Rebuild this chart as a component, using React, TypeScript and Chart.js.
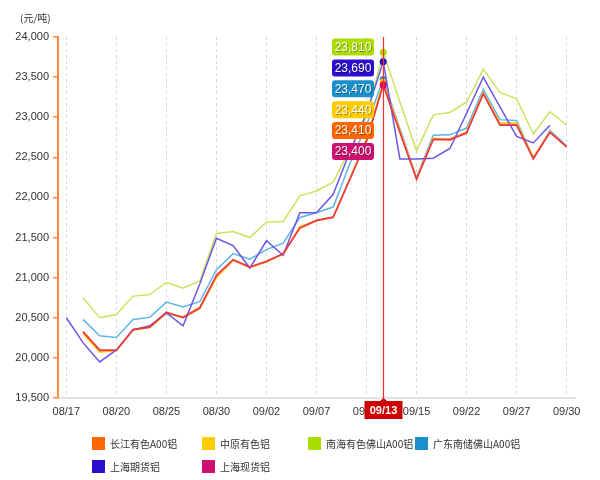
import { useEffect, useRef } from 'react';
import { Chart, registerables } from 'chart.js';

Chart.register(...registerables);

const dates = [
  '08/17', '08/18', '08/19', '08/20', '08/21', '08/24', '08/25', '08/26', '08/27', '08/30',
  '08/31', '09/01', '09/02', '09/03', '09/06', '09/07', '09/08', '09/09', '09/12', '09/13',
  '09/14', '09/15', '09/16', '09/19', '09/22', '09/23', '09/26', '09/27', '09/28', '09/29', '09/30',
];

const changjiang = [null, 20320, 20090, 20095, 20350, 20380, 20560, 20510, 20630, 21020, 21220, 21130, 21200, 21295, 21615, 21710, 21750, 22230, 22710, 23410, 22820, 22230, 22730, 22730, 22810, 23300, 22910, 22910, 22490, 22815, 22635];
const zhongyuan = [null, 20300, 20070, 20090, 20345, 20375, 20555, 20500, 20610, 21000, 21215, 21125, 21195, 21290, 21640, 21710, 21755, 22240, 22730, 23440, 22840, 22240, 22740, 22710, 22820, 23310, 22930, 22930, 22500, 22820, 22630];
const nanhai = [null, 20750, 20500, 20540, 20770, 20790, 20940, 20870, 20960, 21550, 21575, 21500, 21690, 21700, 22020, 22080, 22190, 22600, 23000, 23810, 23190, 22580, 23030, 23060, 23190, 23600, 23310, 23230, 22790, 23070, 22900];
const guangdong = [null, 20480, 20275, 20255, 20480, 20505, 20695, 20635, 20700, 21100, 21300, 21230, 21350, 21430, 21750, 21810, 21880, 22420, 22900, 23470, 22860, 22250, 22775, 22780, 22865, 23345, 22970, 22960, 22490, 22835, 22645];
const shfutures = [20500, 20190, 19950, 20100, 20350, 20400, 20560, 20400, 20920, 21490, 21400, 21120, 21460, 21280, 21810, 21810, 22040, 22570, 23050, 23690, 22480, 22480, 22490, 22610, 23050, 23500, 23130, 22760, 22680, 22900, null];
const shspot = [null, 20330, 20100, 20095, 20355, 20385, 20570, 20500, 20620, 21030, 21225, 21135, 21205, 21300, 21620, 21715, 21755, 22225, 22700, 23400, 22810, 22225, 22720, 22720, 22800, 23290, 22900, 22900, 22480, 22810, 22630];

const seriesNames = ['长江有色A00铝', '中原有色铝', '南海有色佛山A00铝', '广东南储佛山A00铝', '上海期货铝', '上海现货铝'];
const seriesData = [changjiang, zhongyuan, nanhai, guangdong, shfutures, shspot];
const strongColors = ['#FF6600', '#FFCC00', '#AADD00', '#1A8FCC', '#2A10CC', '#CC1170'];
const lineColors = ['#FF6A20', '#FFD020', '#C6E660', '#5CB6E8', '#6E55E6', '#E8394A'];
const drawOrder = [2, 3, 5, 4, 1, 0];

const HIGHLIGHT = 19;
const yTicksMin = 19500;
const yTicksMax = 24000;
const yStep = 500;

const FONT = 'Liberation Sans, Arial, sans-serif';

const markerPlugin = {
  id: 'marker',
  afterDatasetsDraw(chart: any) {
    const { ctx, chartArea, scales } = chart;
    const px = Math.round(scales.x.getPixelForValue(HIGHLIGHT)) + 0.5;
    ctx.save();
    ctx.setLineDash([]);
    ctx.strokeStyle = '#FF2A2A';
    ctx.lineWidth = 1.2;
    ctx.beginPath();
    ctx.moveTo(px, chartArea.top);
    ctx.lineTo(px, chartArea.bottom + 3);
    ctx.stroke();

    // value boxes
    const items = seriesData
      .map((d, i) => ({ v: d[HIGHLIGHT] as number, c: strongColors[i] }))
      .sort((a, b) => b.v - a.v);
    items.forEach((it, i) => {
      const cy = chartArea.top + 10 + i * 20.9;
      const w = 42;
      const h = 17;
      const bx = px - 9.5 - w;
      ctx.fillStyle = it.c;
      ctx.beginPath();
      ctx.roundRect(bx, cy - h / 2, w, h, 3);
      ctx.fill();
      ctx.font = `12px ${FONT}`;
      ctx.textAlign = 'center';
      ctx.textBaseline = 'middle';
      ctx.fillStyle = 'rgba(0,0,0,0.35)';
      ctx.fillText(it.v.toLocaleString('en-US'), bx + w / 2 + 1, cy + 1.5);
      ctx.fillStyle = '#FFFFFF';
      ctx.fillText(it.v.toLocaleString('en-US'), bx + w / 2, cy + 0.5);
    });

    // date box
    const top = chartArea.bottom + 3;
    const bw = 38;
    const bh = 18;
    ctx.fillStyle = '#CC0000';
    ctx.fillRect(px - bw / 2, top, bw, bh);
    ctx.beginPath();
    ctx.moveTo(px - 4, top + 0.5);
    ctx.lineTo(px, top - 3);
    ctx.lineTo(px + 4, top + 0.5);
    ctx.closePath();
    ctx.fill();
    ctx.fillStyle = '#FFFFFF';
    ctx.font = `bold 11px ${FONT}`;
    ctx.textAlign = 'center';
    ctx.textBaseline = 'middle';
    ctx.fillText(dates[HIGHLIGHT], px, top + bh / 2 + 0.5);
    ctx.restore();
  },
};

export default function App() {
  const ref = useRef<HTMLCanvasElement | null>(null);

  useEffect(() => {
    if (!ref.current) return;
    const chart = new Chart(ref.current, {
      type: 'line',
      data: {
        labels: dates,
        datasets: seriesData.map((d, i) => ({
          label: seriesNames[i],
          data: d,
          borderColor: lineColors[i],
          backgroundColor: strongColors[i],
          borderWidth: 1.5,
          tension: 0,
          order: drawOrder[i],
          spanGaps: false,
          pointRadius: (c: any) => (c.dataIndex === HIGHLIGHT ? 3.5 : 0),
          pointBackgroundColor: strongColors[i],
          pointBorderWidth: 0,
          pointHoverRadius: 0,
        })),
      },
      options: {
        responsive: false,
        animation: false,
        layout: { padding: { left: 0, right: 25, top: 37, bottom: 52 } },
        plugins: {
          legend: { display: false },
          tooltip: { enabled: false },
        },
        scales: {
          x: {
            type: 'category',
            offset: true,
            grid: {
              offset: false,
              drawTicks: false,
              lineWidth: 1,
              color: (c: any) => (c.index % 3 === 0 ? '#D8D8D8' : 'rgba(0,0,0,0)'),
            },
            border: { display: true, color: '#E2E2E2', width: 2, dash: [3, 3] },
            ticks: {
              autoSkip: false,
              maxRotation: 0,
              padding: 7,
              color: '#333333',
              font: { size: 11, family: FONT },
              callback: (_v: any, i: number) => (i % 3 === 0 && i !== HIGHLIGHT ? dates[i] : ''),
            },
            afterFit: (s: any) => {
              s.height = 30;
            },
          },
          y: {
            min: yTicksMin,
            max: yTicksMax,
            grid: { drawOnChartArea: false, color: '#FF8A3D', tickLength: 5, lineWidth: 1.5 },
            border: { display: true, color: '#FF8A3D', width: 2 },
            ticks: {
              stepSize: yStep,
              padding: 4,
              color: '#333333',
              font: { size: 11, family: FONT },
              callback: (v: any) => Number(v).toLocaleString('en-US'),
            },
            afterFit: (s: any) => {
              s.width = 58;
            },
          },
        },
      },
      plugins: [markerPlugin],
    });
    return () => chart.destroy();
  }, []);

  const legendPos = [
    [92, 437], [202, 437], [308, 437], [415, 437],
    [92, 460], [202, 460],
  ];

  return (
    <div style={{ position: 'fixed', left: 0, top: 0, width: 600, height: 480, background: '#fff' }}>
      <canvas ref={ref} width={600} height={480} style={{ position: 'absolute', left: 0, top: 0 }} />
      <div
        style={{
          position: 'absolute', left: 20, top: 11, fontSize: 10, color: '#333',
          fontFamily: 'Noto Sans CJK SC, sans-serif', lineHeight: '14px',
        }}
      >
        (元/吨)
      </div>
      {seriesNames.map((n, i) => (
        <div
          key={n}
          style={{
            position: 'absolute', left: legendPos[i][0], top: legendPos[i][1], display: 'flex',
            alignItems: 'center', height: 13, fontSize: 10, color: '#333',
            fontFamily: 'Noto Sans CJK SC, sans-serif', whiteSpace: 'nowrap',
          }}
        >
          <span style={{ display: 'inline-block', width: 13, height: 13, background: strongColors[i], marginRight: 5 }} />
          <span>{n}</span>
        </div>
      ))}
    </div>
  );
}
